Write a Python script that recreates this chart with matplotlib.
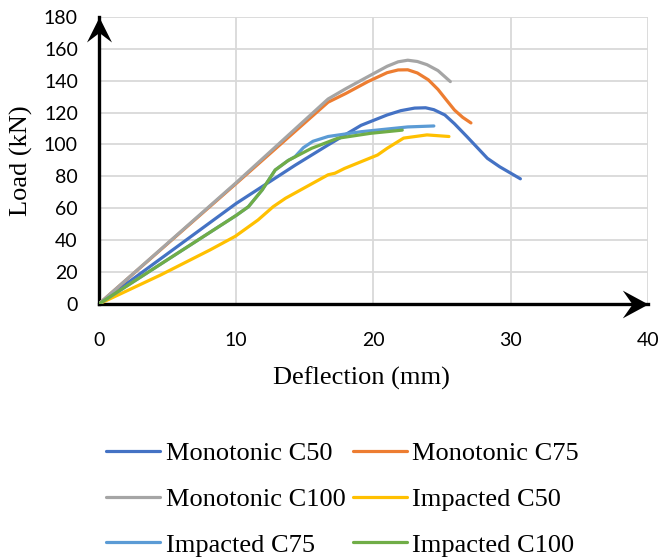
import numpy as np
import matplotlib
matplotlib.use("Agg")
import matplotlib.pyplot as plt
from matplotlib.path import Path

# data (deflection mm, load kN)
mono_c50_x = [0, 5, 10, 11.9, 14.3, 16.7, 19.1, 21, 22, 23, 23.8, 24.4, 25.2, 25.9, 26.8, 28.3, 29.2, 30.7]
mono_c50_y = [0, 31.5, 63, 73.6, 87, 99.7, 112, 118.5, 121.2, 122.8, 123, 121.8, 118.5, 113, 105, 91.3, 86, 78.5]

mono_c75_x = [0, 10, 16.7, 18, 19.6, 21, 21.8, 22.5, 23.2, 24, 24.7, 25.3, 25.9, 26.5, 27.1]
mono_c75_y = [0, 75.5, 126.5, 132, 139.4, 145, 146.7, 146.8, 144.8, 140.5, 134.5, 128, 121.6, 117, 113.5]

mono_c100_x = [0, 10, 16.7, 18, 19.6, 21, 21.8, 22.5, 23.2, 23.9, 24.7, 25.6]
mono_c100_y = [0, 76, 128.5, 135, 142.5, 149, 151.8, 152.8, 152, 150, 146.3, 139.4]

imp_c50_x = [0, 4.5, 8.1, 9.95, 11.6, 12.7, 13.6, 16.7, 17.2, 17.9, 20.3, 21, 22.2, 23.9, 25.5]
imp_c50_y = [0, 18.2, 33.9, 42.5, 52.7, 61, 66.3, 81, 82, 85, 93.4, 97.6, 104, 106, 105]

imp_c75_x = [0, 10, 10.9, 11.9, 12.85, 13.8, 14.3, 14.9, 15.6, 16.7, 19.1, 22.5, 24.4]
imp_c75_y = [0, 55.5, 61, 71.5, 84, 90, 92.4, 98, 102, 105, 108, 111, 111.6]

imp_c100_x = [0, 10, 10.9, 11.9, 12.85, 13.8, 15.5, 17.4, 19.8, 22.1]
imp_c100_y = [0, 55.5, 61, 71.5, 84, 90, 97.6, 103.9, 107, 109]

labels = ["Monotonic C50", "Monotonic C75", "Monotonic C100",
          "Impacted C50", "Impacted C75", "Impacted C100"]
colors = ["#4472C4", "#ED7D31", "#A5A5A5", "#FFC000", "#5B9BD5", "#70AD47"]

x_ticks = [0, 10, 20, 30, 40]
y_ticks = [0, 20, 40, 60, 80, 100, 120, 140, 160, 180]

series = [(mono_c50_x, mono_c50_y), (mono_c75_x, mono_c75_y),
          (mono_c100_x, mono_c100_y), (imp_c50_x, imp_c50_y),
          (imp_c75_x, imp_c75_y), (imp_c100_x, imp_c100_y)]

fig = plt.figure(figsize=(6.58, 5.6), dpi=100)
ax = fig.add_axes([0.150, 0.457, 0.835, 0.513])

handles = []
for (xs, ys), lab, col in zip(series, labels, colors):
    ln, = ax.plot(xs, ys, color=col, lw=2.3, label=lab, solid_capstyle="round",
                  solid_joinstyle="round", zorder=3)
    handles.append(ln)

ax.set_xlim(0, 40)
ax.set_ylim(0, 180)
ax.set_xticks(x_ticks)
ax.set_yticks(y_ticks)
ax.grid(color="#D9D9D9", lw=1.3, zorder=0)
ax.set_axisbelow(True)
for s in ["top", "right"]:
    ax.spines[s].set_visible(False)
for s in ["left", "bottom"]:
    ax.spines[s].set_linewidth(2.4)
    ax.spines[s].set_color("black")
    ax.spines[s].set_zorder(2)

tick_font = "Lato"
ax.tick_params(axis="both", length=0, labelsize=14)
ax.tick_params(axis="y", pad=15)
ax.tick_params(axis="x", pad=20)
for t in ax.get_xticklabels() + ax.get_yticklabels():
    t.set_family(tick_font)

# arrow heads on the axes
right_arrow = Path([(0, 0), (-1, 0.54), (-0.62, 0), (-1, -0.54), (0, 0)],
                   [Path.MOVETO, Path.LINETO, Path.LINETO, Path.LINETO, Path.CLOSEPOLY])
up_arrow = Path([(0, 0), (-0.5, -1), (0, -0.62), (0.5, -1), (0, 0)],
                [Path.MOVETO, Path.LINETO, Path.LINETO, Path.LINETO, Path.CLOSEPOLY])
ax.plot(1, 0, marker=right_arrow, ms=37, color="black", mew=0,
        transform=ax.transAxes, clip_on=False, zorder=5)
ax.plot(0, 1, marker=up_arrow, ms=36, color="black", mew=0,
        transform=ax.transAxes, clip_on=False, zorder=5)

serif = "Liberation Serif"
ax.set_xlabel("Deflection (mm)", family=serif, fontsize=19)
ax.set_ylabel("Load (kN)", family=serif, fontsize=19)
ax.xaxis.set_label_coords(0.479, -0.258)
ax.xaxis.label.set_va("center")
ax.yaxis.set_label_coords(-0.140, 0.498)
ax.yaxis.label.set_va("center")

# legend is filled row by row in the reference
order = [0, 2, 4, 1, 3, 5]
fig.legend([handles[i] for i in order], [labels[i] for i in order],
           loc="center", bbox_to_anchor=(342.5 / 658, 1 - 499 / 560), ncol=2,
           frameon=False, prop={"family": serif, "size": 19},
           handlelength=2.05, handletextpad=0.2, columnspacing=0.27,
           labelspacing=0.85)

fig.savefig("out.png", dpi=100)
